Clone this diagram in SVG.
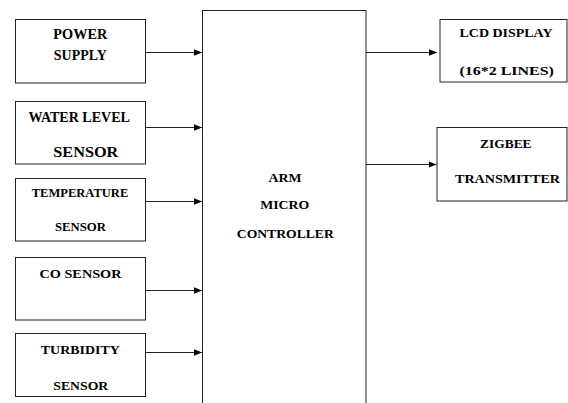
<svg xmlns="http://www.w3.org/2000/svg" width="568" height="403" viewBox="0 0 568 403">
<defs>
<marker id="ah" viewBox="0 0 8 8" refX="8" refY="4" markerWidth="8" markerHeight="8" markerUnits="userSpaceOnUse" orient="auto">
<path d="M0,0.8 L8,4 L0,7.2 Z" fill="#000"/>
</marker>
<style>
rect{fill:#fff;stroke:#222;stroke-width:1}
text{font-weight:bold;font-size:13px;fill:#000;text-anchor:middle}
.l{font-size:15.5px}
.s{font-size:11.5px}
.m{font-size:13.5px}
.c line{stroke:#222;stroke-width:1;marker-end:url(#ah)}
</style>
</defs>
<rect width="568" height="403" style="fill:#fff;stroke:none"/>
<g font-family="Liberation Serif, serif">
<g id="mcu"><rect x="202.5" y="10.5" width="163.5" height="400"/>
<text x="285" y="182.3" textLength="33" lengthAdjust="spacingAndGlyphs">ARM</text>
<text x="284.7" y="209" textLength="49" lengthAdjust="spacingAndGlyphs">MICRO</text>
<text class="m" x="285.3" y="238.3" textLength="97" lengthAdjust="spacingAndGlyphs">CONTROLLER</text></g>
<g id="power"><rect x="15.5" y="19.5" width="130" height="63.5"/>
<text class="l" x="80.3" y="39" textLength="54" lengthAdjust="spacingAndGlyphs">POWER</text>
<text class="l" x="80.3" y="60" textLength="53" lengthAdjust="spacingAndGlyphs">SUPPLY</text></g>
<g id="water"><rect x="15.5" y="101.5" width="130" height="62.5"/>
<text class="l" x="79.2" y="121.7" textLength="101.5" lengthAdjust="spacingAndGlyphs">WATER LEVEL</text>
<text class="l" x="85.8" y="156.7" textLength="65" lengthAdjust="spacingAndGlyphs">SENSOR</text></g>
<g id="temp"><rect x="15.5" y="178.5" width="130" height="62.5"/>
<text class="s" x="80" y="197.3" textLength="96.5" lengthAdjust="spacingAndGlyphs">TEMPERATURE</text>
<text class="s" x="80.5" y="231" textLength="51" lengthAdjust="spacingAndGlyphs">SENSOR</text></g>
<g id="co"><rect x="15.5" y="257.5" width="130" height="62.5"/>
<text x="80.5" y="277.7" textLength="82" lengthAdjust="spacingAndGlyphs">CO  SENSOR</text></g>
<g id="turb"><rect x="15.5" y="333.5" width="130" height="63"/>
<text class="m" x="80.3" y="353.5" textLength="79" lengthAdjust="spacingAndGlyphs">TURBIDITY</text>
<text class="m" x="80.8" y="390" textLength="55" lengthAdjust="spacingAndGlyphs">SENSOR</text></g>
<g id="lcd"><rect x="440" y="19.5" width="127" height="62.5"/>
<text class="m" x="506" y="37.3" textLength="93" lengthAdjust="spacingAndGlyphs">LCD DISPLAY</text>
<text class="m" x="506.7" y="75" textLength="94.5" lengthAdjust="spacingAndGlyphs">(16*2 LINES)</text></g>
<g id="zigbee"><rect x="437" y="127.5" width="130" height="73.5"/>
<text x="505.8" y="148.3" textLength="51.5" lengthAdjust="spacingAndGlyphs">ZIGBEE</text>
<text x="507.5" y="183.3" textLength="105" lengthAdjust="spacingAndGlyphs">TRANSMITTER</text></g>
</g>
<g class="c" id="connectors">
<line x1="145.5" y1="52.5" x2="202" y2="52.5"/>
<line x1="145.5" y1="127.5" x2="202" y2="127.5"/>
<line x1="145.5" y1="201.5" x2="202" y2="201.5"/>
<line x1="145.5" y1="290.5" x2="202" y2="290.5"/>
<line x1="145.5" y1="352.5" x2="202" y2="352.5"/>
<line x1="366" y1="52.5" x2="437" y2="52.5"/>
<line x1="366" y1="164.5" x2="436.5" y2="164.5"/>
</g>
</svg>
